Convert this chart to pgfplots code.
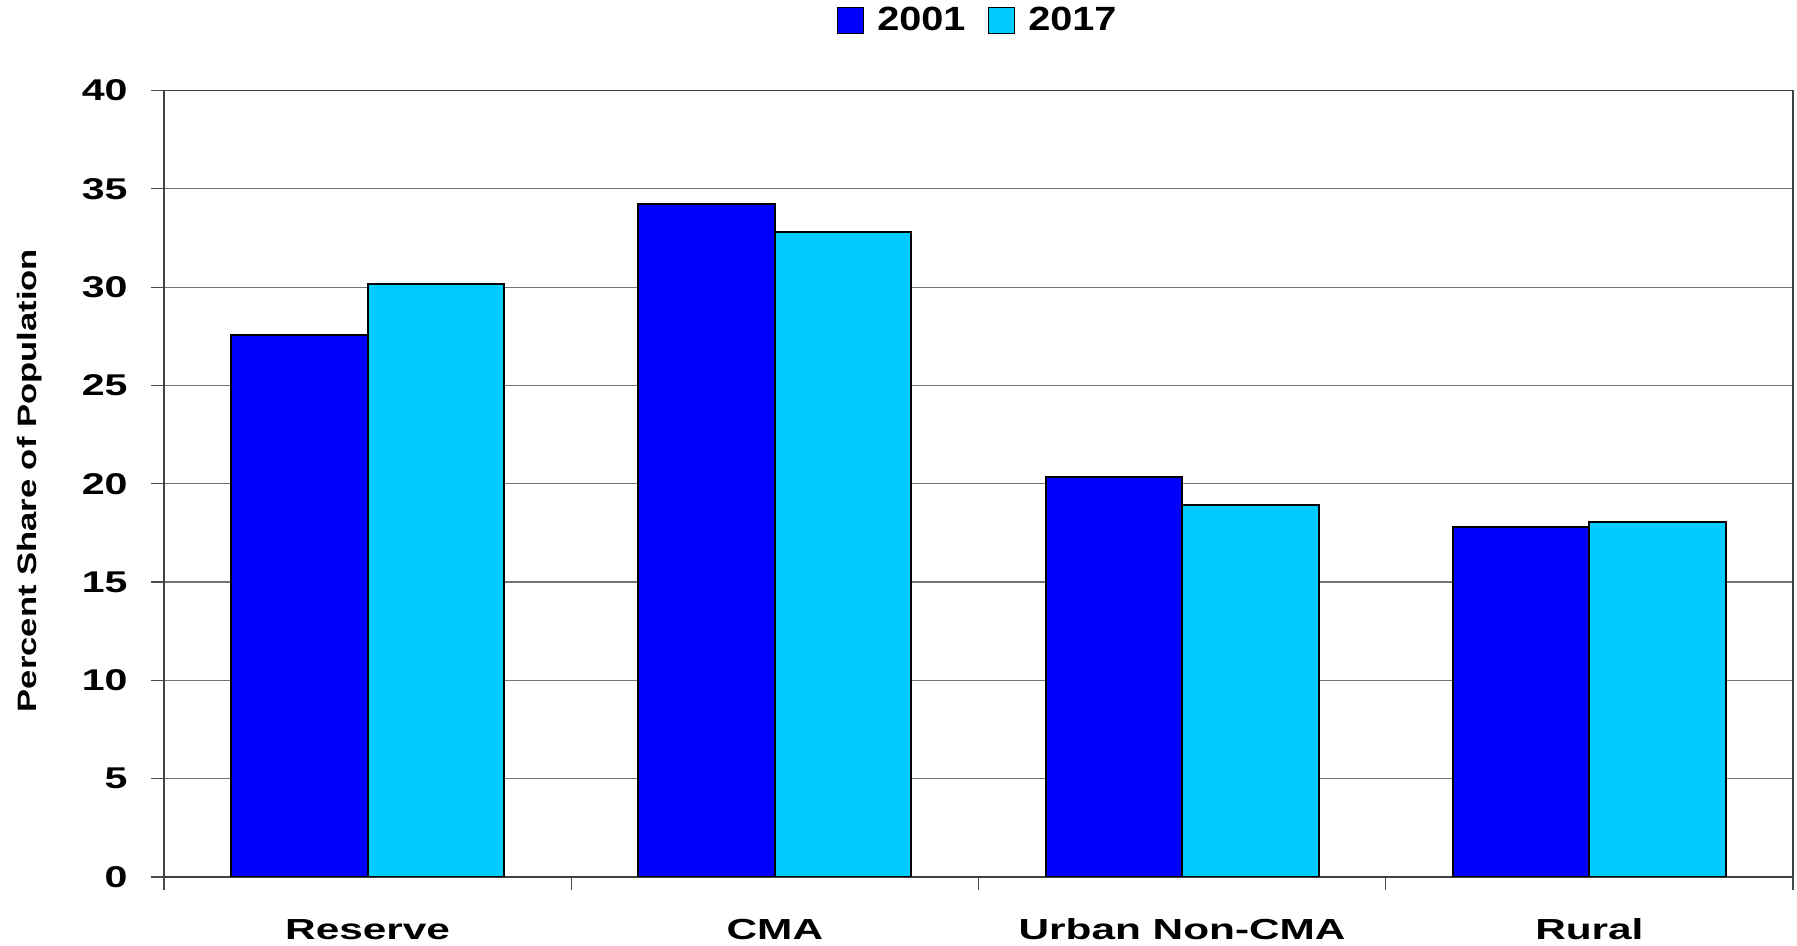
\documentclass[border=0pt]{standalone}
\usepackage{fontspec}
\setmainfont{Liberation Sans}
\newfontfamily\tickfont[FakeStretch=1.37]{Liberation Sans}
\newfontfamily\catfont[FakeStretch=1.46]{Liberation Sans}
\newfontfamily\labfont[FakeStretch=1.3]{Liberation Sans}
\newfontfamily\legfont[FakeStretch=1.18]{Liberation Sans}
\usepackage{pgfplots}
\pgfplotsset{compat=1.18}

\definecolor{bar01}{HTML}{0000FF}
\definecolor{bar17}{HTML}{00CCFF}

\begin{document}
\begin{tikzpicture}
\begin{axis}[
    scale only axis,
    width=814.5pt, height=393.25pt,
    ybar, bar width=0.335,
    xmin=-0.5, xmax=3.5,
    ymin=0, ymax=40,
    ytick={0,5,...,40},
    % category boundaries carry the tick marks, names sit at 0..3
    xtick={-0.5,0.5,1.5,2.5,3.5},
    xticklabels={},
    extra x ticks={0,1,2,3},
    extra x tick labels={Reserve, CMA, Urban Non-CMA, Rural},
    extra x tick style={grid=none, major tick length=0pt},
    tick pos=left,
    tick style={draw=black!70, line width=0.6pt},
    tick align=outside,
    major tick length=6.5pt,
    ymajorgrids=true,
    grid style={black!55, line width=0.6pt},
    axis line style={black!75, line width=0.9pt},
    /pgf/number format/assume math mode=true,
    yticklabel style={font=\tickfont\bfseries\fontsize{15}{18}\selectfont, anchor=east, inner sep=0pt, xshift=-11.5pt},
    xticklabel style={font=\catfont\bfseries\fontsize{14.5}{17}\selectfont, anchor=base, inner sep=0pt, yshift=-31.5pt},
    ylabel={Percent Share of Population},
    ylabel style={font=\labfont\bfseries\fontsize{13.3}{15}\selectfont, at={(axis description cs:-0.0823,0.504)}, anchor=center},
    legend style={at={(axis description cs:0.5,1.089)}, anchor=center, draw=none,
        font=\legfont\bfseries\fontsize{16.8}{19}\selectfont,
        /tikz/every even column/.append style={column sep=9pt}},
    legend columns=2,
    legend image code/.code={\draw[#1, draw=black, line width=0.8pt] (0pt,-6.5pt) rectangle (13pt,6.5pt);
        \path (17.5pt,0pt);},
]
\addplot[fill=bar01, draw=black, line width=1pt, bar shift=-0.1675] coordinates {(0,27.57) (1,34.21) (2,20.33) (3,17.79)};
\addplot[fill=bar17, draw=black, line width=1pt, bar shift=0.1675] coordinates {(0,30.14) (1,32.79) (2,18.92) (3,18.04)};
\legend{2001, 2017}
\end{axis}
\pgfresetboundingbox
\path ([shift={(-82pt,-34.5pt)}]current axis.south west) rectangle ++(898.5pt,473pt);
\end{tikzpicture}
\end{document}
